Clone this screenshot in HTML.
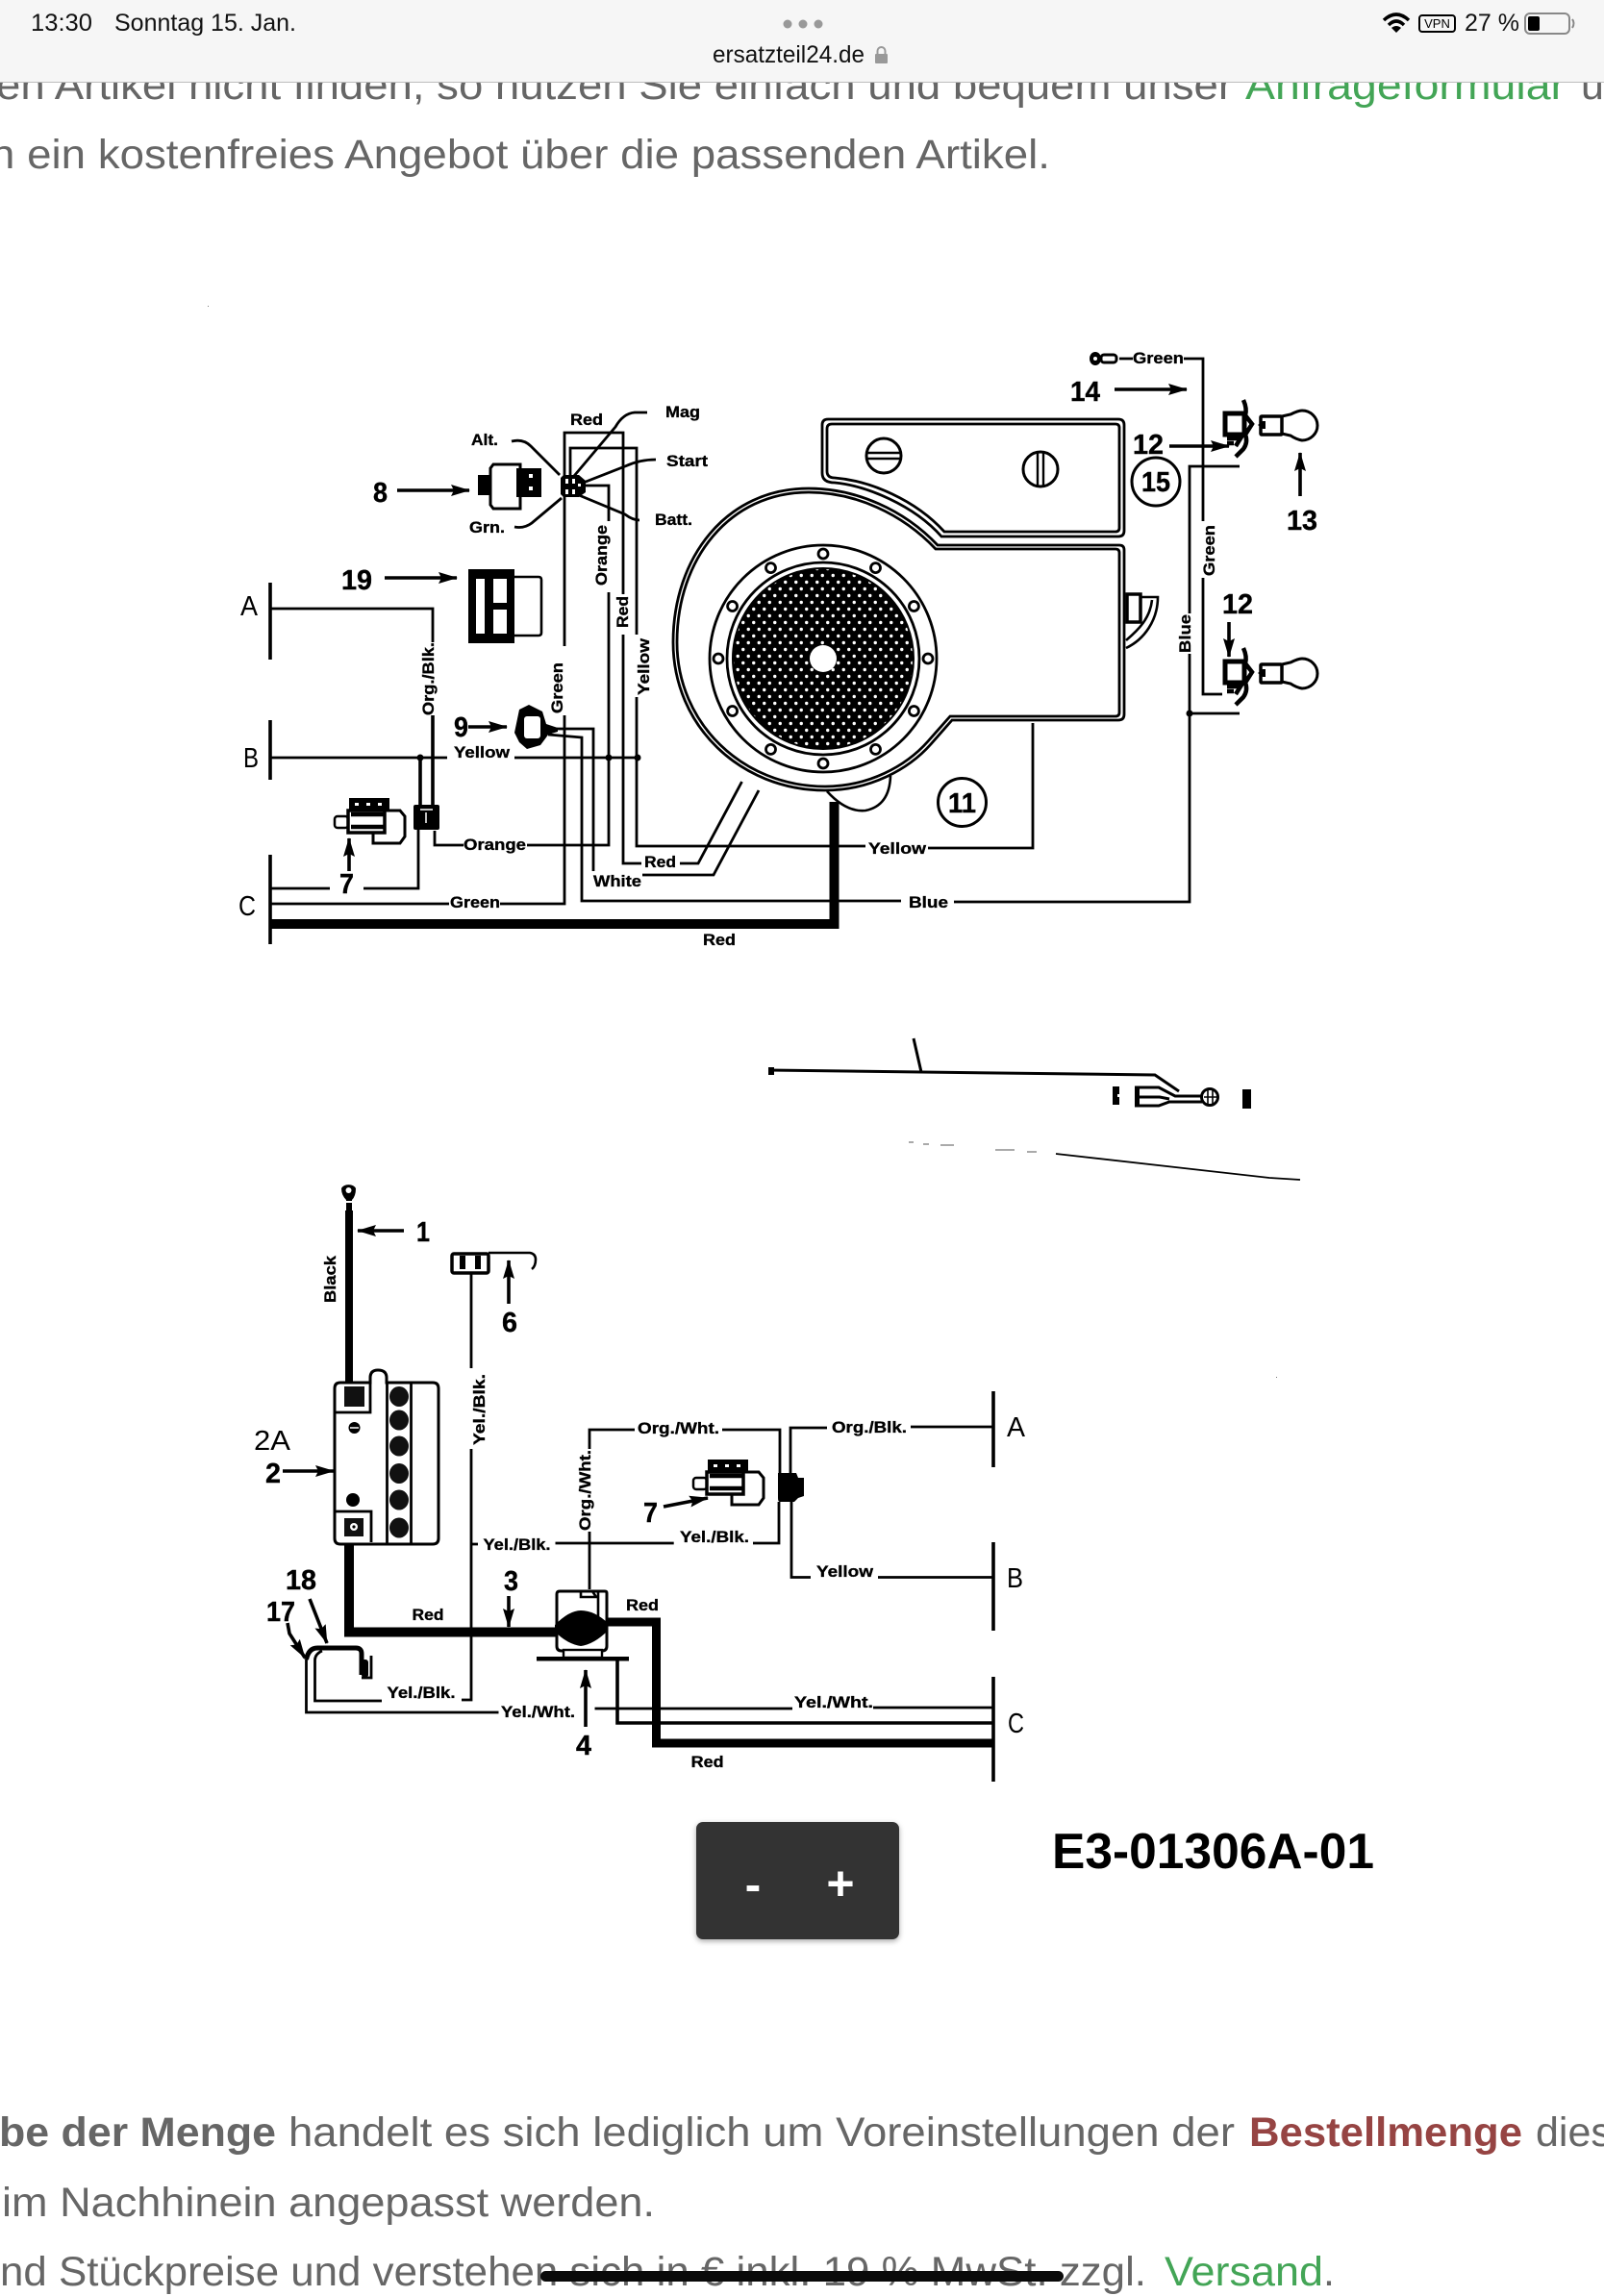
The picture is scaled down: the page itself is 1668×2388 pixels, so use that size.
<!DOCTYPE html>
<html lang="de"><head><meta charset="utf-8"><title>E3-01306A-01</title>
<style>
html,body{margin:0;padding:0;background:#fff;width:1668px;height:2388px;overflow:hidden}
svg{display:block;position:absolute;left:0;top:0}
text{font-family:"Liberation Sans",sans-serif}
.w{fill:none;stroke:#000;stroke-width:2.8;stroke-linejoin:miter}
.k{fill:none;stroke:#000;stroke-width:3.6}
.t{fill:none;stroke:#000;stroke-width:10}
.a{fill:none;stroke:#000;stroke-width:3.6;marker-end:url(#ah)}
.l{font-weight:700;font-size:17px;fill:#000;stroke:#000;stroke-width:.35}
.n{font-weight:700;font-size:29px;fill:#000;stroke:#000;stroke-width:.4}
.b{font-size:29px;fill:#000}
.p{font-size:43px;fill:#666}
.g{font-size:43px;fill:#43a556}
.h{font-size:25px;fill:#111}
</style></head><body>
<svg width="1668" height="2388" viewBox="0 0 1668 2388" xmlns="http://www.w3.org/2000/svg">
<defs>
<marker id="ah" markerUnits="userSpaceOnUse" markerWidth="22" markerHeight="14" refX="19" refY="6" orient="auto"><path d="M0,0 L20,6 L0,12 L3,6 Z" fill="#000"/></marker>
<pattern id="mesh" width="11" height="14" patternUnits="userSpaceOnUse"><rect width="11" height="14" fill="#000"/><circle cx="2.750" cy="3.500" r="1.700" fill="#fff"/><circle cx="8.250" cy="10.500" r="1.700" fill="#fff"/></pattern>
<g id="part7">
<rect x="363" y="830" width="42" height="14" fill="#000"/><rect x="369" y="835" width="4" height="3" fill="#fff"/><rect x="381" y="835" width="4" height="3" fill="#fff"/><rect x="393" y="835" width="4" height="3" fill="#fff"/>
<rect x="348" y="849" width="14" height="12" rx="3" fill="#fff" stroke="#000" stroke-width="2.500"/>
<rect x="362" y="843" width="38" height="23" fill="#fff" stroke="#000" stroke-width="3.500"/>
<path d="M365,847 H400 M365,860 H400" stroke="#000" stroke-width="4.500"/>
<path d="M400,843 H416 L421,849 V870 L416,877 H388 V867" fill="none" stroke="#000" stroke-width="3"/>
</g>
<g id="socket">
<path d="M1274,430 H1294 V452 H1274 Z" fill="#fff" stroke="#000" stroke-width="5"/>
<path d="M1293,416 Q1297,425 1295,432 L1302,441 L1295,452 Q1298,460 1293,467 L1285,475 M1276,456 L1290,456 L1285,464 M1276,461 H1283" fill="none" stroke="#000" stroke-width="4.500"/>
</g>
<g id="bulb">
<path d="M1333,433 L1342,431 Q1350,427 1354,427 A16,15.500 0 1 1 1354,458 Q1348,457 1342,453 L1333,451" fill="#fff" stroke="#000" stroke-width="3"/>
<rect x="1311" y="433" width="22" height="19" rx="1" fill="#fff" stroke="#000" stroke-width="3.500"/>
<path d="M1308,442 L1313,438 H1316 V446 H1313 Z" fill="#000"/>
</g>
</defs>

<!-- page text -->
<text class="p" x="-4" y="103" textLength="1286" lengthAdjust="spacingAndGlyphs">en Artikel nicht finden, so nutzen Sie einfach und bequem unser</text>
<text class="g" x="1295" y="103" textLength="333" lengthAdjust="spacingAndGlyphs">Anfrageformular</text>
<text class="p" x="1644" y="103">u</text>
<text class="p" x="-10" y="175" textLength="1102" lengthAdjust="spacingAndGlyphs">n ein kostenfreies Angebot über die passenden Artikel.</text>

<text class="p" x="-1" y="2232" style="font-weight:700" textLength="288" lengthAdjust="spacingAndGlyphs">be der Menge</text>
<text class="p" x="300" y="2232" textLength="984" lengthAdjust="spacingAndGlyphs">handelt es sich lediglich um Voreinstellungen der</text>
<text x="1299" y="2232" style="font-size:43px;font-weight:700;fill:#964443" textLength="284" lengthAdjust="spacingAndGlyphs">Bestellmenge</text>
<text class="p" x="1597" y="2232">dies</text>
<text class="p" x="2" y="2305" textLength="679" lengthAdjust="spacingAndGlyphs">im Nachhinein angepasst werden.</text>
<text class="p" x="0" y="2377" textLength="1192" lengthAdjust="spacingAndGlyphs">nd Stückpreise und verstehen sich in € inkl. 19 % MwSt. zzgl.</text>
<text class="g" x="1211" y="2377" textLength="165" lengthAdjust="spacingAndGlyphs">Versand</text>
<text class="p" x="1376" y="2377">.</text>
<rect x="562" y="2362" width="544" height="11" rx="5.500" fill="#0a0a0a"/>

<!-- upper wiring -->
<g>
<path class="k" d="M281,606 V686 M281,749 V811 M281,889 V982"/>
<path class="w" d="M281,633 H450 V668"/>
<path class="k" d="M450,744 V837 M437,788 V837"/>
<path class="w" d="M435,862 V924 H378 M343,924 H281"/>
<path class="w" d="M281,788 H465 M535,788 H663"/>
<path class="w" d="M281,940 H467 M520,940 H587 V744 M587,672 V450 H648 V618 M648,660 V898 H667 M707,898 H726 L771.500,813"/>
<path class="w" d="M593,494 V466 H662 V660 M662,725 V880 H900 M965,882 H1074 V752"/>
<path class="w" d="M607,505 H633 V542 M633,616 V879 H548 M482,879 H452 V864"/>
<path class="w" d="M578,758 H617 V906 M570,764 L605,767 V937 H937 M992,938 H1237 V680 M1237,638 V485 H1289 M1237,742 H1289"/>
<path class="w" d="M668,910 H742 L789,822"/>
<path class="w" d="M1164,373 H1178 M1231,373 H1251 V542 M1251,601 V722 H1271"/>
<path class="w" d="M532,459 Q544,456 552,464 L582,494 M535,548 Q545,550 553,544 L584,518 M597,495 L640,444 Q648,430 660,429 H673 M604,503 L650,485 Q665,478 682,478 M602,515 L650,535 Q658,541 665,541"/>
<circle cx="437" cy="788" r="3.500"/><circle cx="633" cy="788" r="3.500"/><circle cx="663" cy="788" r="3.500"/><circle cx="1237" cy="742" r="3.500"/>
<path class="t" d="M281,961 H867.500 V834"/>
</g>

<!-- upper connectors -->
<path d="M586,494 H602 L609,500 V512 L602,517 H586 L583,514 V497 Z" fill="#000"/>
<path d="M588,498 h3 v5 h-3 z M595,498 h3 v5 h-3 z M588,509 h3 v5 h-3 z M595,509 h3 v5 h-3 z M601,503 h3 v3 h-3 z" fill="#fff"/>
<rect x="430" y="837" width="27" height="26" rx="2" fill="#000"/><path d="M443,845 V856 M437,842 H450" stroke="#fff" stroke-width="1.500"/>
<use href="#part7"/>
<!-- part 8 -->
<path d="M513,483 H541 V529 H513 L510,525 V487 Z" fill="#fff" stroke="#000" stroke-width="3"/>
<rect x="497" y="494" width="13" height="21" fill="#000"/>
<rect x="537" y="487" width="26" height="30" fill="#000"/><rect x="550" y="493" width="4" height="4" fill="#fff"/><rect x="550" y="506" width="4" height="4" fill="#fff"/>
<!-- part 19 -->
<rect x="487" y="592" width="48" height="77" fill="#000"/>
<rect x="495" y="602" width="9" height="57" fill="#fff"/><rect x="513" y="602" width="14" height="25" fill="#fff"/><rect x="513" y="634" width="14" height="25" fill="#fff"/>
<path d="M535,600 H560 Q563,600 563,603 V658 Q563,661 560,661 H535" fill="none" stroke="#000" stroke-width="2.600"/>
<!-- part 9 -->
<path d="M535,762 L540,738 L550,733 L564,740 L568,753 L580,757 V761 L570,764 L568,767 L562,775 L548,779 L540,772 Z" fill="#000"/>
<rect x="545" y="745" width="17" height="23" rx="3" fill="#fff"/>
<!-- engine -->
<g fill="none" stroke="#000">
<path stroke-width="2.800" d="M855,442 Q855,436 861,436 H1163 Q1169,436 1169,442 V552 Q1169,558 1163,558 H979 C950,525 900,505 868,502 Q855,502 855,492 Z"/>
<path stroke-width="2.800" d="M860,446 Q860,441 865,441 H1160 Q1164,441 1164,445 V549 Q1164,553 1160,553 H982 C952,520 905,500 868,497 Q860,497 860,490 Z"/>
<path stroke-width="2.800" fill="#fff" d="M1164,567 Q1169,567 1169,572 V743 Q1169,749 1163,749 H990 L968,774 C945,800 905,822 858,822 C770,822 700,755 700,668 C700,580 755,508 841,508 C890,508 940,530 975,567 Z"/>
<path stroke-width="2.800" d="M1160,571 Q1164,571 1164,575 V741 Q1164,745 1160,745 H988 L965,771 C942,797 903,818 858,818 C772,818 704,752 704,668 C704,582 758,512 841,512 C889,512 938,534 973,571 Z"/>
<circle cx="856" cy="685" r="118" stroke-width="2.800"/>
<circle cx="856" cy="685" r="100" stroke-width="2.800"/>
</g>
<circle cx="856" cy="685" r="94" fill="url(#mesh)" stroke="#000" stroke-width="2"/>
<circle cx="856" cy="685" r="14" fill="#fff"/>
<g fill="#fff" stroke="#000" stroke-width="2.800">
<circle cx="856" cy="576" r="5"/><circle cx="910.500" cy="590.600" r="5"/><circle cx="950.400" cy="630.500" r="5"/><circle cx="965" cy="685" r="5"/><circle cx="950.400" cy="739.500" r="5"/><circle cx="910.500" cy="779.400" r="5"/><circle cx="856" cy="794" r="5"/><circle cx="801.500" cy="779.400" r="5"/><circle cx="761.600" cy="739.500" r="5"/><circle cx="747" cy="685" r="5"/><circle cx="761.600" cy="630.500" r="5"/><circle cx="801.500" cy="590.600" r="5"/>
</g>
<path d="M860,823 Q880,845 900,843 Q925,838 926,807" fill="none" stroke="#000" stroke-width="2.600"/>
<path class="t" d="M867.500,850 V834"/>
<circle cx="919" cy="474" r="18" fill="#fff" stroke="#000" stroke-width="3"/><path d="M901,471 H937 M901,477 H937" stroke="#000" stroke-width="2.400"/>
<circle cx="1082" cy="488" r="18" fill="#fff" stroke="#000" stroke-width="3"/><path d="M1079,470 V506 M1085,470 V506" stroke="#000" stroke-width="2.400"/>
<circle cx="1202" cy="501" r="25" fill="#fff" stroke="#000" stroke-width="3"/>
<circle cx="1000.500" cy="834.500" r="25" fill="#fff" stroke="#000" stroke-width="3"/>
<path d="M1172,618 H1186 V647 H1172 Z" fill="#fff" stroke="#000" stroke-width="3.500"/>
<path d="M1186,621 H1204 C1204,645 1190,665 1171,674 M1198,624 C1196,643 1184,655 1171,666" fill="none" stroke="#000" stroke-width="2.600"/>
<!-- bulbs -->
<use href="#socket"/><use href="#socket" y="258"/>
<use href="#bulb"/><use href="#bulb" y="258"/>
<path d="M1133,373 a6,7 0 0 1 12,0 a6,7 0 0 1 -12,0" fill="#000"/><circle cx="1139" cy="373" r="2" fill="#fff"/><rect x="1145" y="369" width="16" height="8" rx="3" fill="#fff" stroke="#000" stroke-width="3"/>

<!-- upper arrows -->
<path class="a" d="M413,510 H488"/><path class="a" d="M400,601 H475"/><path class="a" d="M487,756 H527"/><path class="a" d="M363,906 V872"/><path class="a" d="M1159,405 H1234"/><path class="a" d="M1216,464 H1278"/><path class="a" d="M1352,516 V471"/><path class="a" d="M1278,647 V683"/>

<!-- upper numbers -->
<text class="n" x="388" y="522" textLength="15" lengthAdjust="spacingAndGlyphs">8</text>
<text class="n" x="355" y="613" textLength="32" lengthAdjust="spacingAndGlyphs">19</text>
<text class="n" x="472" y="766" textLength="15" lengthAdjust="spacingAndGlyphs">9</text>
<text class="n" x="353" y="929" textLength="15" lengthAdjust="spacingAndGlyphs">7</text>
<text class="n" x="1113" y="417" textLength="31" lengthAdjust="spacingAndGlyphs">14</text>
<text class="n" x="1178" y="472" textLength="32" lengthAdjust="spacingAndGlyphs">12</text>
<text class="n" x="1271" y="638" textLength="32" lengthAdjust="spacingAndGlyphs">12</text>
<text class="n" x="1338" y="551" textLength="32" lengthAdjust="spacingAndGlyphs">13</text>
<text class="n" x="1187" y="511" textLength="30" lengthAdjust="spacingAndGlyphs">15</text>
<text class="n" x="986" y="845" textLength="29" lengthAdjust="spacingAndGlyphs">11</text>
<text class="b" x="250" y="640" textLength="18" lengthAdjust="spacingAndGlyphs">A</text>
<text class="b" x="253" y="798" textLength="16" lengthAdjust="spacingAndGlyphs">B</text>
<text class="b" x="248" y="952" textLength="18" lengthAdjust="spacingAndGlyphs">C</text>

<!-- upper labels -->
<text class="l" x="490" y="463" textLength="28" lengthAdjust="spacingAndGlyphs">Alt.</text>
<text class="l" x="488" y="554" textLength="37" lengthAdjust="spacingAndGlyphs">Grn.</text>
<text class="l" x="593" y="442" textLength="34" lengthAdjust="spacingAndGlyphs">Red</text>
<text class="l" x="692" y="434" textLength="36" lengthAdjust="spacingAndGlyphs">Mag</text>
<text class="l" x="693" y="485" textLength="43" lengthAdjust="spacingAndGlyphs">Start</text>
<text class="l" x="681" y="546" textLength="39" lengthAdjust="spacingAndGlyphs">Batt.</text>
<text class="l" x="472" y="788" textLength="58" lengthAdjust="spacingAndGlyphs">Yellow</text>
<text class="l" x="482" y="884" textLength="65" lengthAdjust="spacingAndGlyphs">Orange</text>
<text class="l" x="468" y="944" textLength="52" lengthAdjust="spacingAndGlyphs">Green</text>
<text class="l" x="670" y="902" textLength="33" lengthAdjust="spacingAndGlyphs">Red</text>
<text class="l" x="617" y="922" textLength="50" lengthAdjust="spacingAndGlyphs">White</text>
<text class="l" x="903" y="888" textLength="60" lengthAdjust="spacingAndGlyphs">Yellow</text>
<text class="l" x="945" y="944" textLength="41" lengthAdjust="spacingAndGlyphs">Blue</text>
<text class="l" x="731" y="983" textLength="34" lengthAdjust="spacingAndGlyphs">Red</text>
<text class="l" x="1178" y="378" textLength="53" lengthAdjust="spacingAndGlyphs">Green</text>
<text class="l" transform="translate(451,744) rotate(-90)" textLength="76" lengthAdjust="spacingAndGlyphs">Org./Blk.</text>
<text class="l" transform="translate(585,742) rotate(-90)" textLength="53" lengthAdjust="spacingAndGlyphs">Green</text>
<text class="l" transform="translate(631,609) rotate(-90)" textLength="63" lengthAdjust="spacingAndGlyphs">Orange</text>
<text class="l" transform="translate(653,653) rotate(-90)" textLength="33" lengthAdjust="spacingAndGlyphs">Red</text>
<text class="l" transform="translate(675,723) rotate(-90)" textLength="59" lengthAdjust="spacingAndGlyphs">Yellow</text>
<text class="l" transform="translate(1263,599) rotate(-90)" textLength="53" lengthAdjust="spacingAndGlyphs">Green</text>
<text class="l" transform="translate(1238,679) rotate(-90)" textLength="40" lengthAdjust="spacingAndGlyphs">Blue</text>

<!-- middle fragment -->
<path d="M799,1113 L1201,1118 L1226,1135" fill="none" stroke="#000" stroke-width="3"/>
<rect x="799" y="1110" width="6" height="8" fill="#000"/>
<path d="M950,1080 L958,1115" stroke="#000" stroke-width="3"/>
<path d="M1157,1130 h7 v8 h-2 v3 h2 v8 h-7 z" fill="#000"/>
<path d="M1180,1131 H1205 L1222,1140 H1250 M1180,1150 H1205 L1216,1146 H1250 M1180,1141 H1206 L1216,1143" fill="none" stroke="#000" stroke-width="3"/>
<rect x="1180" y="1130" width="5" height="21" fill="#000"/>
<circle cx="1258" cy="1141" r="8.500" fill="#fff" stroke="#000" stroke-width="3"/><path d="M1256,1134 V1148 M1261,1134 V1148 M1252,1141 H1265" stroke="#000" stroke-width="1.600"/>
<rect x="1292" y="1133" width="9" height="20" fill="#000"/>
<path d="M1098,1200 L1320,1225 L1352,1227" fill="none" stroke="#000" stroke-width="1.800"/>
<path d="M945,1188 H950 M960,1190 H966 M978,1191 H992 M1035,1196 H1055 M1068,1198 H1078" stroke="#555" stroke-width="1"/>
<rect x="216" y="318" width="1" height="1" fill="#777"/><rect x="1327" y="1432" width="1" height="1" fill="#777"/>

<!-- lower: battery -->
<path class="t" style="stroke-width:8" d="M363,1259 V1445"/>
<path d="M355,1236 a8,6 0 0 1 15,0 q0,8 -4,12 v12 h-6 v-12 q-5,-5 -5,-12" fill="#000"/><circle cx="362.500" cy="1238" r="3" fill="#fff"/><rect x="359" y="1249" width="7" height="2" fill="#fff"/>
<path d="M354,1438 H385 V1433 Q385,1425 393,1425 Q402,1425 402,1433 V1438 H450 Q456,1438 456,1444 V1600 Q456,1606 450,1606 H354 Q348,1606 348,1600 V1444 Q348,1438 354,1438 Z" fill="#fff" stroke="#000" stroke-width="3"/>
<path d="M385,1438 V1469 H349 M349,1572 H386 V1604 M402.500,1438 V1606 M427.500,1438 V1606" fill="none" stroke="#000" stroke-width="2.800"/>
<rect x="358" y="1442" width="21" height="21" fill="#111"/>
<rect x="358" y="1579" width="20" height="19" fill="#111"/><circle cx="368" cy="1588" r="4" fill="#fff"/><circle cx="368" cy="1588" r="1.600" fill="#000"/>
<circle cx="368.500" cy="1485" r="6" fill="#000"/><path d="M364,1485 H373" stroke="#fff" stroke-width="1.500"/>
<circle cx="367" cy="1560" r="7" fill="#000"/>
<g fill="#111"><ellipse cx="415" cy="1452.500" rx="10" ry="10.500"/><ellipse cx="415" cy="1477" rx="10" ry="10.500"/><ellipse cx="415" cy="1504" rx="10" ry="10.500"/><ellipse cx="415" cy="1532.500" rx="10" ry="10.500"/><ellipse cx="415" cy="1560" rx="10" ry="10.500"/><ellipse cx="415" cy="1589" rx="10" ry="10.500"/></g>
<!-- part 6 -->
<rect x="470" y="1304" width="38" height="20" rx="2" fill="#fff" stroke="#000" stroke-width="3.500"/>
<rect x="478" y="1306" width="6" height="14" fill="#000"/><rect x="494" y="1306" width="6" height="14" fill="#000"/>
<path d="M508,1303 H551 Q557,1304 557,1310 Q557,1317 553,1320" fill="none" stroke="#000" stroke-width="2.600"/>
<!-- lower wires -->
<path class="w" d="M490,1325 V1423 M490,1507 V1768 H480 M397,1769 H327.500 V1726 Q328,1720 335,1717"/>
<path class="w" d="M490,1606 H497 M577.500,1605 H700.700 M783,1605 H810 V1562"/>
<path class="w" d="M613,1653 V1593 M613,1507 V1487 H660 M751,1487 H811 V1532 M822,1532 V1485 H860 M947,1484 H1033"/>
<path class="w" d="M823,1562 V1640.500 H843 M913,1640.500 H1033"/>
<path class="k" d="M1033,1447 V1526 M1033,1604 V1696 M1033,1744 V1853"/>
<path class="w" d="M318.500,1726 V1781 H518.500 M618.500,1777 H824 M908,1776 H1033"/>
<path class="k" d="M642,1727 V1792 H1033"/>
<path class="t" d="M363,1606 V1697.500 H590"/>
<path class="t" style="stroke-width:9" d="M625,1687 H682.500 V1813 H1033"/>
<!-- hook 18 -->
<path d="M318.500,1726 Q321,1714 330,1714 H370 Q376,1714 376,1720 V1742" fill="none" stroke="#000" stroke-width="5"/>
<path d="M386,1722 V1745 H376" fill="none" stroke="#000" stroke-width="2.800"/><rect x="376" y="1726" width="7" height="19" rx="3" fill="#000"/>
<!-- solenoid -->
<path d="M582,1655 H629 Q631,1655 631,1657 V1712 Q631,1717 626,1717 H584 Q579,1717 579,1712 V1658 Q579,1655 582,1655 Z" fill="#fff" stroke="#000" stroke-width="3"/>
<path d="M622,1655 V1690 M604,1655 H616 L620,1661 H604 Z" fill="none" stroke="#000" stroke-width="2.600"/>
<path d="M577,1690 Q592,1675 604,1675 Q618,1675 632,1688 V1696 Q618,1710 604,1712 Q590,1710 577,1697 Z" fill="#000"/>
<rect x="586" y="1716" width="40" height="8" fill="#fff" stroke="#000" stroke-width="2.400"/>
<rect x="558" y="1723" width="96" height="4.500" fill="#000"/>
<!-- connector lower -->
<path d="M809,1532 H828 L830,1537 H836 V1556 L830,1558 L826,1562 H811 Q809,1562 809,1558 Z" fill="#000"/>
<use href="#part7" x="373" y="688"/>
<!-- lower arrows -->
<path class="a" d="M420,1280 H372"/><path class="a" d="M529,1356 V1311"/><path class="a" d="M294,1530 H347"/><path class="a" d="M529,1660 V1692"/><path class="a" d="M322,1663 L340,1709"/><path class="a" d="M299,1688 L301,1699 L317,1724"/><path class="a" d="M609,1796 V1737"/><path class="a" d="M690,1567 L736,1558"/>
<!-- lower numbers -->
<text class="n" x="433" y="1291" textLength="14" lengthAdjust="spacingAndGlyphs">1</text>
<text class="n" x="522" y="1385" textLength="16" lengthAdjust="spacingAndGlyphs">6</text>
<text class="b" x="264" y="1508" textLength="38" lengthAdjust="spacingAndGlyphs">2A</text>
<text class="n" x="276" y="1542" textLength="16" lengthAdjust="spacingAndGlyphs">2</text>
<text class="n" x="524" y="1654" textLength="15" lengthAdjust="spacingAndGlyphs">3</text>
<text class="n" x="297" y="1653" textLength="32" lengthAdjust="spacingAndGlyphs">18</text>
<text class="n" x="277" y="1686" textLength="30" lengthAdjust="spacingAndGlyphs">17</text>
<text class="n" x="599" y="1825" textLength="16" lengthAdjust="spacingAndGlyphs">4</text>
<text class="n" x="669" y="1583" textLength="15" lengthAdjust="spacingAndGlyphs">7</text>
<text class="b" x="1047" y="1494" textLength="19" lengthAdjust="spacingAndGlyphs">A</text>
<text class="b" x="1047" y="1651" textLength="17" lengthAdjust="spacingAndGlyphs">B</text>
<text class="b" x="1048" y="1802" textLength="17" lengthAdjust="spacingAndGlyphs">C</text>
<!-- lower labels -->
<text class="l" x="502.500" y="1612" textLength="70" lengthAdjust="spacingAndGlyphs">Yel./Blk.</text>
<text class="l" x="707" y="1604" textLength="72" lengthAdjust="spacingAndGlyphs">Yel./Blk.</text>
<text class="l" x="663" y="1491" textLength="85" lengthAdjust="spacingAndGlyphs">Org./Wht.</text>
<text class="l" x="865" y="1490" textLength="78" lengthAdjust="spacingAndGlyphs">Org./Blk.</text>
<text class="l" x="849" y="1640" textLength="59" lengthAdjust="spacingAndGlyphs">Yellow</text>
<text class="l" x="428.500" y="1685" textLength="33" lengthAdjust="spacingAndGlyphs">Red</text>
<text class="l" x="651" y="1675" textLength="34" lengthAdjust="spacingAndGlyphs">Red</text>
<text class="l" x="402.500" y="1766" textLength="71" lengthAdjust="spacingAndGlyphs">Yel./Blk.</text>
<text class="l" x="521" y="1786" textLength="77" lengthAdjust="spacingAndGlyphs">Yel./Wht.</text>
<text class="l" x="826" y="1776" textLength="82" lengthAdjust="spacingAndGlyphs">Yel./Wht.</text>
<text class="l" x="718.600" y="1838" textLength="34" lengthAdjust="spacingAndGlyphs">Red</text>
<text class="l" transform="translate(349,1355) rotate(-90)" textLength="49" lengthAdjust="spacingAndGlyphs">Black</text>
<text class="l" transform="translate(504,1503) rotate(-90)" textLength="74" lengthAdjust="spacingAndGlyphs">Yel./Blk.</text>
<text class="l" transform="translate(614,1592) rotate(-90)" textLength="84" lengthAdjust="spacingAndGlyphs">Org./Wht.</text>
<text x="1094" y="1943" style="font-size:52px;font-weight:700;fill:#000" textLength="335" lengthAdjust="spacingAndGlyphs">E3-01306A-01</text>

<!-- zoom button -->
<rect x="724" y="1895" width="211" height="122" rx="7" fill="#333" style="filter:drop-shadow(0 2px 3px rgba(0,0,0,.35))"/>
<text x="783" y="1977" text-anchor="middle" style="font-size:50px;font-weight:700;fill:#fff">-</text>
<text x="874" y="1976" text-anchor="middle" style="font-size:50px;font-weight:700;fill:#fff">+</text>

<!-- browser bar -->
<rect x="0" y="0" width="1668" height="86" fill="#f6f6f6"/>
<rect x="0" y="85" width="1668" height="1" fill="#bdbdbd"/>
<text class="h" x="32" y="32" textLength="64" lengthAdjust="spacingAndGlyphs">13:30</text>
<text class="h" x="119" y="32" textLength="189" lengthAdjust="spacingAndGlyphs">Sonntag 15. Jan.</text>
<circle cx="819" cy="25" r="4.500" fill="#999"/><circle cx="835" cy="25" r="4.500" fill="#999"/><circle cx="851" cy="25" r="4.500" fill="#999"/>
<text class="h" x="741" y="65" textLength="158" lengthAdjust="spacingAndGlyphs">ersatzteil24.de</text>
<rect x="910" y="56" width="13" height="10" rx="1" fill="#999"/><path d="M912.500,56 V53 a4,4 0 0 1 8,0 V56" fill="none" stroke="#999" stroke-width="2"/>
<path d="M1439,21 Q1452,9 1465,21 M1444,26 Q1452,18 1460,26" fill="none" stroke="#000" stroke-width="3.500"/><path d="M1447,29 L1452,34 L1457,29 Q1452,25 1447,29 Z" fill="#000"/>
<rect x="1476" y="16" width="37" height="17" rx="3" fill="none" stroke="#000" stroke-width="2"/>
<text x="1494.500" y="29" text-anchor="middle" style="font-size:13px;fill:#000">VPN</text>
<text class="h" x="1523" y="32" textLength="57" lengthAdjust="spacingAndGlyphs">27 %</text>
<rect x="1586" y="14" width="46" height="21" rx="5" fill="none" stroke="#888" stroke-width="2"/>
<rect x="1589" y="17" width="12" height="15" rx="2" fill="#000"/>
<path d="M1635,20 q3,4 0,9" fill="none" stroke="#888" stroke-width="2"/>
</svg>
</body></html>
